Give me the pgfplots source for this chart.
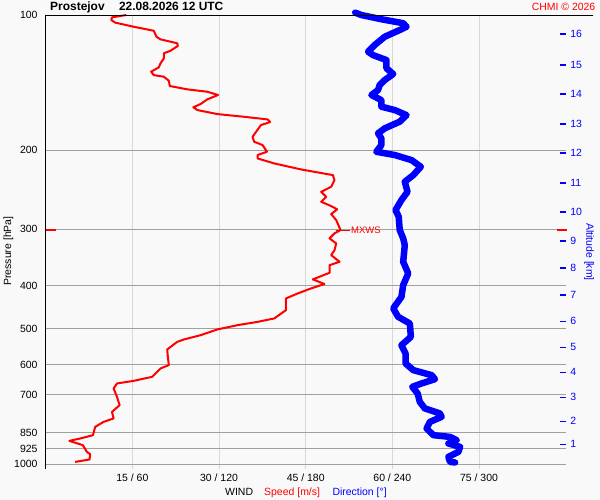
\documentclass[border=0pt]{standalone}
\usepackage{pgfplots}
\pgfplotsset{compat=1.18}
\usepackage{pgfplotstable}
\usepackage{fontspec}
\setmainfont{Liberation Sans}

\definecolor{bg}{RGB}{249,249,249}
\definecolor{hgrid}{RGB}{160,160,160}
\definecolor{vgrid}{RGB}{216,216,216}
\definecolor{chred}{RGB}{255,0,0}
\definecolor{chblue}{RGB}{0,0,255}

% wind speed [m/s] vs pressure [hPa]
\pgfplotstableread{
p s
100.0 13.96
101.2 11.47
102.6 11.35
104.0 12.05
106.2 15.23
108.4 18.70
111.8 19.17
113.3 19.87
115.6 22.77
117.2 22.87
120.1 21.60
121.7 20.44
124.9 20.44
128.1 19.87
130.8 19.57
133.7 18.25
136.1 18.70
137.2 20.44
140.1 21.31
143.9 21.48
146.4 24.51
148.2 27.98
150.7 29.83
154.1 27.98
157.8 26.82
160.5 25.55
162.8 26.25
166.2 29.72
168.5 34.35
170.8 38.41
173.1 38.86
175.8 37.25
181.0 36.55
186.7 35.80
191.5 36.08
194.8 37.54
201.6 38.29
205.0 36.67
208.6 36.67
214.0 39.56
220.7 44.20
227.2 49.71
233.1 49.99
241.2 49.41
247.5 47.68
253.9 48.54
260.5 47.68
266.3 49.41
270.8 50.46
277.4 49.41
286.1 50.28
301.1 51.03
306.3 49.99
314.3 49.12
322.5 50.28
333.8 49.99
342.4 49.41
354.4 50.86
360.5 49.12
374.9 49.12
387.8 46.23
397.2 48.25
406.1 45.94
416.7 43.63
427.5 41.59
453.9 41.59
473.7 39.56
482.1 36.67
490.3 33.20
501.2 29.72
516.1 26.82
527.6 23.92
534.1 22.77
555.3 21.03
576.8 21.14
601.8 21.31
612.1 19.87
639.0 18.42
652.3 15.23
661.1 12.34
678.2 11.75
708.0 12.34
739.0 12.79
764.8 11.47
791.1 11.75
805.0 10.01
825.9 8.57
861.8 8.17
876.5 5.96
887.3 4.10
907.1 6.43
938.9 7.13
950.0 7.70
976.2 7.58
988.3 5.09
}\speedtab

% wind direction [deg] vs pressure [hPa]
\pgfplotstableread{
p d
98.8 214.3
100.0 218.5
102.2 232.4
104.3 247.5
106.2 249.8
108.0 245.1
111.8 234.7
116.6 227.8
120.7 223.2
122.8 226.6
126.0 235.9
131.4 235.9
135.3 240.6
139.6 234.7
143.2 231.2
146.9 230.1
150.7 225.5
154.7 232.4
160.0 232.4
162.8 241.7
167.1 249.8
172.8 245.1
178.8 234.7
183.4 230.1
188.3 232.4
194.8 232.4
201.6 228.9
205.0 241.7
210.4 253.3
217.7 259.7
227.2 254.5
235.1 248.6
247.5 250.5
258.2 246.3
271.8 242.2
281.3 244.4
301.1 245.1
314.3 247.5
325.3 248.6
354.4 247.5
376.1 251.0
399.3 247.5
424.1 246.3
450.0 240.6
469.8 244.0
486.1 252.1
520.7 252.8
543.3 246.3
566.8 249.1
596.6 249.1
617.5 254.5
633.6 267.2
646.8 269.5
661.1 260.2
672.7 253.8
696.0 257.5
726.6 259.0
751.5 262.5
771.0 272.9
784.6 274.1
805.0 266.0
832.8 263.7
861.8 268.4
869.4 279.9
884.1 284.6
899.3 278.8
915.1 286.9
938.9 285.7
963.3 278.8
988.3 279.9
991.3 283.4
}\dirtab

\begin{document}
\begin{tikzpicture}
\fill[bg] (0bp,0bp) rectangle (600bp,500bp);
\useasboundingbox (0bp,0bp) rectangle (600bp,500bp);

\begin{axis}[
  at={(45.7bp,31bp)}, anchor=south west,
  scale only axis, width=520bp, height=454bp,
  xmin=0, xmax=90, ymin=100, ymax=1025,
  ymode=log, y dir=reverse, enlargelimits=false,
  axis line style={draw=none},
  clip=false,
  xtick={15,30,45,60,75},
  xticklabels={15 / 60, 30 / 120, 45 / 180, 60 / 240, 75 / 300},
  ytick={100,200,300,400,500,600,700,850,925,1000},
  yticklabels={100,200,300,400,500,600,700,850,925,1000},
  major tick length=0pt, minor tick length=0pt,
  xmajorgrids, ymajorgrids,
  x grid style={vgrid, line width=1bp},
  y grid style={hgrid, line width=1bp},
  tick label style={font=\fontsize{10.5}{12}\selectfont},
  xticklabel style={anchor=base, inner sep=0pt, yshift=-12.7bp},
  yticklabel style={anchor=east, inner sep=0pt, xshift=-8bp},
  xtick pos=bottom, ytick pos=left,
]
\addplot[chred, line width=2bp, line join=round] table[x=s, y=p] {\speedtab};
\addplot[chblue, line width=6.5bp, line join=round, line cap=round] table[x expr=\thisrow{d}/4, y=p] {\dirtab};
\addplot[chred, line width=1bp] coordinates {(50.3,301.1) (52.7,301.1)}
  node[right, inner sep=0.5bp, font=\fontsize{9.5}{11}\selectfont, text=chred] {MXWS};
\addplot[chred, line width=1.3bp] coordinates {(0,301.1) (1.74,301.1)};
\addplot[chred, line width=1.3bp] coordinates {(88.5,301.1) (90.2,301.1)};
\draw[black, line width=1bp] (axis cs:0,1025) -- (axis cs:0,100) -- (axis cs:94.8,100);
\end{axis}

\begin{axis}[
  at={(45.7bp,31bp)}, anchor=south west,
  scale only axis, width=520bp, height=454bp,
  xmin=0, xmax=90, ymin=100, ymax=1025,
  ymode=log, y dir=reverse, enlargelimits=false,
  axis line style={draw=none},
  xtick=\empty,
  ytick={110.2,129.2,150,174.9,202.9,236.7,274.6,318.7,366,420.4,480.4,548.9,624.2,709.3,802.1,902.9},
  yticklabels={16,15,14,13,12,11,10,9,8,7,6,5,4,3,2,1},
  ytick pos=right, yticklabel pos=right,
  tick align=inside, major tick length=6bp, minor tick length=0pt,
  ytick style={chblue, line width=1.3bp},
  yticklabel style={anchor=west, inner sep=0pt, xshift=4.5bp, text=chblue,
    font=\fontsize{10.5}{12}\selectfont},
]
\addplot[draw=none] coordinates {(0,500)};
\end{axis}

\node[anchor=base west, inner sep=0pt, font=\bfseries\fontsize{12}{14}\selectfont]
  at (50bp,489bp) {Prostejov\hspace{1.2em}22.08.2026 12 UTC};
\node[anchor=base east, inner sep=0pt, text=chred, font=\fontsize{10.5}{12}\selectfont]
  at (595.5bp,489.3bp) {CHMI © 2026};
\node[rotate=90, inner sep=0pt, font=\fontsize{10.5}{12}\selectfont] at (8.5bp,249bp) {Pressure [hPa]};
\node[rotate=-90, inner sep=0pt, text=chblue, font=\fontsize{10.5}{12}\selectfont] at (589bp,248bp) {Altitude [km]};
\node[anchor=base west, inner sep=0pt, font=\fontsize{10.5}{12}\selectfont] at (225bp,5bp) {WIND};
\node[anchor=base west, inner sep=0pt, text=chred, font=\fontsize{10.5}{12}\selectfont] at (264bp,5bp) {Speed [m/s]};
\node[anchor=base west, inner sep=0pt, text=chblue, font=\fontsize{10.5}{12}\selectfont] at (332.3bp,5bp) {Direction [°]};
\end{tikzpicture}
\end{document}
